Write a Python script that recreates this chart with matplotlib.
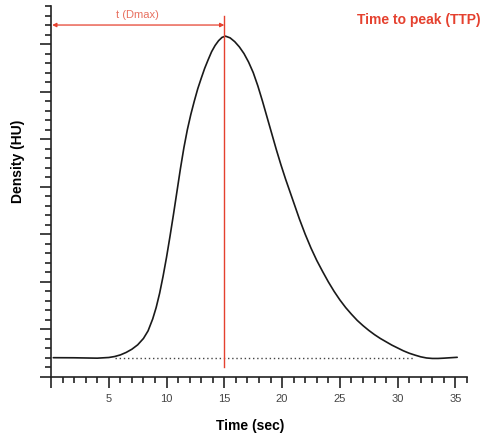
import matplotlib.pyplot as plt
from matplotlib.ticker import MultipleLocator

plt.rcParams['font.family'] = ['Liberation Sans', 'DejaVu Sans']

# time-density curve (time in sec, density in tick units)
time = [0.2, 2.0, 4.0, 5.0, 5.5, 6.0, 6.5, 7.0, 7.5, 8.0, 8.4, 8.8, 9.1, 9.4, 9.7,
        10.0, 10.3, 10.6, 10.9, 11.2, 11.5, 11.8, 12.1, 12.4, 12.7, 13.0, 13.3,
        13.6, 13.9, 14.2, 14.5, 14.8, 15.1,
        15.5, 15.9, 16.3, 16.7, 17.1, 17.5, 17.9, 18.3, 18.7, 19.1, 19.5, 19.9,
        20.3, 20.7, 21.1, 21.5, 22.0, 22.5, 23.0, 23.5, 24.0, 24.5, 25.0, 25.5,
        26.0, 26.5, 27.0, 27.5, 28.0, 28.5, 29.0, 29.5, 30.0, 30.5, 31.0, 31.5,
        32.0, 32.5, 33.0, 33.5, 34.0, 34.5, 35.15]
density = [2.03, 2.02, 1.98, 2.05, 2.15, 2.32, 2.58, 2.92, 3.38, 4.05, 4.85, 6.1, 7.3,
           8.8, 10.6, 12.6, 14.8, 17.1, 19.5, 21.9, 24.1, 26.0, 27.6, 29.0, 30.3,
           31.4, 32.45, 33.35, 34.2, 34.85, 35.35, 35.7, 35.83,
           35.65, 35.25, 34.7, 34.0, 33.1, 32.0, 30.6, 29.0, 27.3, 25.6, 23.9, 22.3,
           20.8, 19.4, 18.0, 16.6, 15.0, 13.55, 12.25, 11.1, 10.0, 9.0, 8.1, 7.3,
           6.6, 5.95, 5.4, 4.9, 4.45, 4.05, 3.7, 3.35, 3.05, 2.75, 2.5, 2.3,
           2.12, 2.0, 1.95, 1.95, 1.98, 2.02, 2.07]

baseline = 2.03
t_peak = 15.0
x_major = [5, 10, 15, 20, 25, 30, 35]

red = '#e5412f'
light_red = '#e8705f'

fig = plt.figure(figsize=(4.83, 4.34), dpi=100)
ax = fig.add_axes([51 / 483, 57 / 434, 416 / 483, 371 / 434])

ax.plot([5.5, 31.5], [baseline, baseline], color='#444444', lw=1.0,
        linestyle=(0, (1, 2)), zorder=1)
ax.plot(time, density, color='#1a1a1a', lw=1.2, zorder=2,
        solid_capstyle='round', solid_joinstyle='round')
ax.plot([t_peak, t_peak], [1.0, 38.0], color=red, lw=1.0, zorder=3)

ax.annotate('', xy=(0.1, 37.0), xytext=(t_peak, 37.0),
            arrowprops=dict(arrowstyle='<|-|>', color=red, lw=0.9,
                            mutation_scale=6, shrinkA=0, shrinkB=0))
ax.text(7.5, 37.5, 't (Dmax)', color=light_red, fontsize=8, ha='center', va='bottom')

ax.set_xlim(0, 36.0)
ax.set_ylim(0, 39.0)
for s in ['top', 'right']:
    ax.spines[s].set_visible(False)
for s in ['left', 'bottom']:
    ax.spines[s].set_linewidth(1.2)
    ax.spines[s].set_color('#222222')

ax.xaxis.set_major_locator(MultipleLocator(5))
ax.xaxis.set_minor_locator(MultipleLocator(1))
ax.yaxis.set_major_locator(MultipleLocator(5))
ax.yaxis.set_minor_locator(MultipleLocator(1))
ax.set_xticks([0] + x_major)
ax.set_xticklabels([''] + [str(v) for v in x_major])
ax.set_yticklabels([])
ax.tick_params(which='major', length=8, width=1.2, color='#222222',
               labelsize=8, labelcolor='#444444', pad=4)
ax.tick_params(which='minor', length=4.5, width=1.2, color='#222222')

fig.text(250 / 483, 1 - 426 / 434, 'Time (sec)', fontsize=10, fontweight='bold',
         ha='center', va='center')
fig.text(18.5 / 483, 1 - 161 / 434, 'Density (HU)', fontsize=10, fontweight='bold',
         ha='center', va='center', rotation=90)
fig.text(481 / 483, 1 - 20 / 434, 'Time to peak (TTP)', fontsize=10, fontweight='bold',
         color=red, ha='right', va='center')

fig.savefig('out.png', dpi=100)
